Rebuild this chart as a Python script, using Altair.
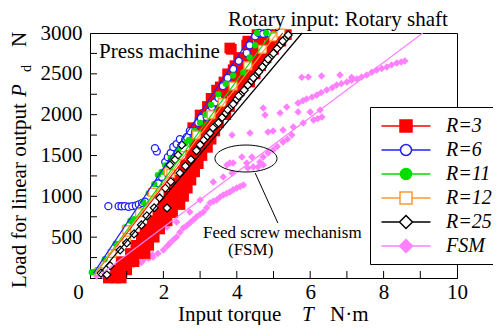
import altair as alt
import pandas as pd

FONT = "Liberation Serif"

# ---------------- data ----------------
series = ["R=3", "R=6", "R=11", "R=12", "R=25", "FSM"]
stroke_colors = ["#ff0000", "#2020ff", "#00dd00", "#ff9933", "#000000", "#ff80ff"]
fill_colors = ["#ff0000", "#ffffff", "#00dd00", "#ffffff", "#ffffff", "#ff80ff"]

# R=3 (red filled squares)
r3_T = [0.5, 0.7, 0.85,
        0.7, 0.85, 1.0,
        0.85, 1.05, 1.2,
        1.1, 1.3, 1.5,
        1.25, 1.45, 1.6,
        1.4, 1.6, 1.75,
        1.5, 1.7, 1.9,
        1.7, 1.9, 2.1,
        1.85, 2.05, 2.25,
        2.0, 2.2, 2.45,
        2.15, 2.35, 2.55,
        2.3, 2.5, 2.65,
        2.4, 2.6, 2.75,
        2.55, 2.7, 2.85,
        2.6, 2.8, 2.95,
        2.75, 2.9, 3.05,
        2.85, 3.0, 3.2,
        2.9, 3.1, 3.3,
        2.95, 3.15, 3.4,
        3.0, 3.25, 3.5,
        3.15, 3.45, 3.7,
        3.2, 3.5, 3.8,
        3.3, 3.6, 3.9,
        3.45, 3.75, 4.05,
        3.65, 3.9, 4.15, 4.35,
        3.75, 4.0, 4.25, 4.5,
        3.95, 4.2, 4.45, 4.65,
        4.05, 4.3, 4.55, 4.8,
        3.85, 4.5, 4.75, 5.0,
        4.3, 4.6, 4.9, 5.2,
        4.55, 4.85, 5.1, 5.35,
        2.8, 3.0, 3.55, 3.9, 3.81, 4.27]
r3_P = [0, 0, 0,
        100, 100, 100,
        200, 200, 200,
        300, 300, 300,
        400, 400, 400,
        500, 500, 500,
        600, 600, 600,
        700, 700, 700,
        800, 800, 800,
        900, 900, 900,
        1000, 1000, 1000,
        1100, 1100, 1100,
        1200, 1200, 1200,
        1300, 1300, 1300,
        1400, 1400, 1400,
        1500, 1500, 1500,
        1600, 1600, 1600,
        1700, 1700, 1700,
        1800, 1800, 1800,
        1900, 1900, 1900,
        2000, 2000, 2000,
        2100, 2100, 2100,
        2200, 2200, 2200,
        2300, 2300, 2300,
        2400, 2400, 2400, 2400,
        2500, 2500, 2500, 2500,
        2600, 2600, 2600, 2600,
        2700, 2700, 2700, 2700,
        2800, 2800, 2800, 2800,
        2900, 2900, 2900, 2900,
        2980, 2980, 2980, 2980,
        1840, 1996, 2340, 2550, 2816, 2853]

# R=6 (blue open circles)
r6_T = [0.5, 0.78, 0.86, 0.95, 1.05, 1.15, 1.25, 1.33, 1.42, 1.5,
        1.86, 1.96, 1.82, 1.77, 2.05, 2.12, 2.2, 2.27, 2.36, 2.45,
        2.59, 2.64, 2.72, 2.86, 2.95, 3.02, 3.18, 3.25, 3.32, 3.4,
        3.5, 3.62, 3.75, 3.9, 4.05, 4.27, 4.35, 4.5, 4.6, 4.72, 4.85]
r6_P = [880, 880, 878, 880, 872, 880, 885, 900, 920, 935,
        1160, 1237, 1550, 1590, 1420, 1480, 1530, 1604, 1640, 1700,
        1690, 1727, 1800, 1788, 1900, 1960, 1972, 2040, 2094, 2150,
        2204, 2350, 2450, 2560, 2660, 2755, 2850, 2960, 3000, 2990, 3000]

# R=11 (green filled circles)
r11_T = [0.05, 0.15, 0.4, 0.7, 0.95, 1.1, 1.2, 1.3, 1.45, 1.6, 1.75, 1.85,
         1.95, 2.05, 2.2, 2.4, 2.6, 2.7, 2.85, 3.0, 3.15, 3.3, 3.5, 3.7,
         3.9, 4.18, 4.35, 4.5, 4.55, 4.8, 5.0]
r11_P = [70, 80, 230, 420, 620, 700, 720, 820, 930, 1040, 1150, 1260,
         1300, 1380, 1470, 1570, 1650, 1690, 1800, 1900, 2000, 2120, 2250, 2380,
         2480, 2520, 2700, 2850, 3000, 3000, 2990]

# R=12 (orange open squares)
r12_T = [0.25, 0.6, 1.0, 1.0, 1.35, 1.7, 2.13, 2.2, 2.5, 2.9, 3.3, 3.6,
         3.9, 4.3, 4.7, 5.0, 5.2]
r12_P = [80, 300, 465, 590, 800, 1050, 1300, 1280, 1500, 1750, 2000, 2150,
         2350, 2600, 2800, 2950, 3000]

# R=25 (black open diamonds)
r25_T = [0.3, 0.46, 0.55, 0.82, 1.0, 1.2, 1.4, 1.55, 1.75, 1.9, 2.05, 2.1,
         2.2, 2.18, 2.32, 2.4, 2.45, 2.5, 2.6, 2.75, 2.9, 3.0, 3.1, 3.2,
         3.27, 3.4, 3.5, 3.6, 3.7, 3.8, 3.9, 4.0, 4.1, 4.2, 4.3, 4.4,
         4.5, 4.6, 4.7, 4.8, 4.9, 5.0, 5.1, 5.2, 5.3, 5.4,
         3.35, 3.75, 4.05, 4.45, 4.85, 5.25]
r25_P = [60, 40, 150, 343, 430, 540, 650, 760, 860, 980, 1100, 857,
         1180, 1384, 1450, 1506, 1286, 1630, 1370, 1450, 1560, 1630, 1690, 1740,
         1775, 1855, 1900, 1965, 2020, 2080, 2130, 2190, 2245, 2300, 2360, 2415,
         2470, 2525, 2585, 2640, 2700, 2750, 2810, 2860, 2920, 2975,
         1840, 2060, 2230, 2450, 2680, 2900]

# FSM (violet filled diamonds)
fsm_T = [0.18, 0.35, 0.55, 0.75, 0.9, 1.05, 1.18, 1.3, 1.45, 1.6, 1.72, 1.85,
         2.0, 2.1, 2.18, 2.28, 2.36, 2.45, 2.54, 2.63, 2.72, 2.81, 2.9, 3.0,
         3.09, 3.18, 3.27, 3.36, 3.45, 3.54, 3.63, 3.72, 3.81, 3.9, 4.0, 4.09, 4.18,
         0.6, 1.0, 1.4, 1.7, 2.1, 2.36, 2.72, 3.0, 3.36, 3.63, 3.87,
         3.73, 3.81, 3.9, 4.14, 4.27, 4.41, 4.45, 4.3, 4.58, 4.63, 4.72,
         4.72, 4.85, 4.99, 5.1, 5.26, 5.38, 5.5, 5.54, 5.81, 6.09, 6.2, 6.32,
         3.87, 4.36, 4.85, 4.72, 4.77, 5.18, 5.36, 5.67, 6.0, 6.27, 4.99, 5.26,
         5.67, 5.8, 5.9, 6.05, 6.18, 6.3, 6.45, 6.6, 6.72, 6.85, 7.0, 7.13,
         7.27, 7.4, 7.54, 7.68, 7.81, 7.95, 8.09, 8.22, 8.36, 8.48, 8.58,
         5.77, 5.95, 6.31, 6.81, 7.13]
fsm_P = [24, 30, 37, 55, 73, 110, 159, 190, 220, 240, 257, 300,
         343, 390, 428, 470, 502, 560, 612, 640, 673, 710, 747, 780,
         808, 860, 918, 940, 955, 990, 1016, 1035, 1053, 1080, 1102, 1120, 1139,
         70, 120, 190, 285, 624, 686, 808, 955, 1176, 1237, 1286,
         1384, 1408, 1408, 1482, 1408, 1482, 1360, 1347, 1360, 1420, 1384,
         1482, 1530, 1567, 1610, 1665, 1700, 1751, 1849, 1898, 1935, 1950, 1971,
         1751, 1776, 1788, 2082, 1996, 2020, 2094, 2033, 2033, 2057, 1800, 1812,
         2143, 2170, 2192, 2215, 2241, 2270, 2302, 2330, 2363, 2380, 2400, 2420,
         2437, 2460, 2486, 2520, 2547, 2565, 2584, 2610, 2633, 2645, 2657,
         2457, 2461, 2473, 2486, 2457]

# straight fitted lines
fit_T0 = [0.15, 0.1, 0.15, 0.15, 0.25, 0.3]
fit_P0 = [60, 60, 60, 60, 50, 50]
fit_T1 = [5.25, 4.45, 4.95, 5.1, 5.78, 9.07]
fit_P1 = [3000, 3000, 3000, 3000, 3000, 3000]

x_label_vals = [0, 2, 4, 6, 8, 10]
y_label_vals = [500, 1000, 1500, 2000, 2500, 3000]
x_tick_vals = [1, 2, 3, 4, 5, 6, 7, 8, 9]
y_tick_vals = [250, 500, 750, 1000, 1250, 1500, 1750, 2000, 2250, 2500, 2750]

ellipse_T = [4.25]
ellipse_P = [1463]
leader_T = [4.5]
leader_P = [1286]
leader_T1 = [5.12]
leader_P1 = [673]

# ---------------- chart ----------------
W, H = 367, 245
xs = alt.Scale(domain=[0, 10], nice=False, zero=False)
ys = alt.Scale(domain=[0, 3000], nice=False, zero=False)
xaxis = alt.Axis(values=x_label_vals, title=None, grid=False, ticks=False, format="d",
                 domainColor="black", labelFont=FONT, labelFontSize=21,
                 labelColor="black", labelPadding=3, labelFlush=False,
                 labelOffset={"condition": {"test": "datum.value === 0", "value": -12}, "value": 0})
yaxis = alt.Axis(values=y_label_vals, title=None, grid=False, ticks=False, format="d",
                 domainColor="black", labelFont=FONT, labelFontSize=21,
                 labelColor="black", labelPadding=8)


def X(f="T"):
    return alt.X(f + ":Q", scale=xs, axis=xaxis)


def Y(f="P"):
    return alt.Y(f + ":Q", scale=ys, axis=yaxis)


def pts(T, P, **mk):
    df = pd.DataFrame({"T": T, "P": P})
    return alt.Chart(df).mark_point(opacity=1, **mk).encode(x=X(), y=Y())


pink = pts(fsm_T, fsm_P, shape="diamond", size=55, filled=True, color="#ff80ff")
red = pts(r3_T, r3_P, shape="square", size=115, filled=True, color="#ff0000")
blue = pts(r6_T, r6_P, shape="circle", size=50, fill="white", stroke="#2020ff", strokeWidth=1.3)
green = pts(r11_T, r11_P, shape="circle", size=40, filled=True, color="#00dd00")
orange = pts(r12_T, r12_P, shape="square", size=60, fill="white", stroke="#ff9933", strokeWidth=1.3)
black = pts(r25_T, r25_P, shape="diamond", size=64, fill="white", stroke="black", strokeWidth=1.2)

fit_df = pd.DataFrame({"T": fit_T0, "P": fit_P0, "T1": fit_T1, "P1": fit_P1,
                       "col": stroke_colors})
fits = alt.Chart(fit_df).mark_rule(strokeWidth=1.2).encode(
    x=X(), y=Y(), x2="T1:Q", y2="P1:Q", color=alt.Color("col:N", scale=None))

xt = alt.Chart(pd.DataFrame({"T": x_tick_vals})).mark_rule(color="black").encode(
    x=X(), y=alt.value(H), y2=alt.value(H - 7))
yt = alt.Chart(pd.DataFrame({"P": y_tick_vals})).mark_rule(color="black").encode(
    y=Y(), x=alt.value(0), x2=alt.value(7))

ell_path = "M-1,0A1,0.435,0,1,1,1,0A1,0.435,0,1,1,-1,0Z"
ellipse = alt.Chart(pd.DataFrame({"T": ellipse_T, "P": ellipse_P})).mark_point(
    shape=ell_path, size=3844, filled=False, stroke="black", strokeWidth=1, opacity=1
).encode(x=X(), y=Y())
leader = alt.Chart(pd.DataFrame({"T": leader_T, "P": leader_P, "T1": leader_T1, "P1": leader_P1})
                   ).mark_rule(color="black", strokeWidth=1).encode(x=X(), y=Y(), x2="T1:Q", y2="P1:Q")

one = pd.DataFrame({"k": [0]})


def txt(s, x, y, size=21, style="normal", angle=0):
    return alt.Chart(one).mark_text(text=s, font=FONT, fontSize=size, fontStyle=style,
                                    angle=angle, align="left", baseline="alphabetic",
                                    color="black").encode(x=alt.value(x), y=alt.value(y))


texts = [
    txt("Rotary input: Rotary shaft", 138, -7),
    txt("Press machine", 9, 25),
    txt("Feed screw mechanism", 113, 205, size=17),
    txt("(FSM)", 138, 222, size=17),
    txt("Input torque", 88, 288),
    txt("T", 212, 288, style="italic"),
    txt("N\u00b7m", 240, 288),
    txt("Load for linear output", -64, 255, angle=270),
    txt("P", -64, 64, style="italic", angle=270),
    txt("d", -59, 39, size=14, angle=270),
    txt("N", -64, 14, angle=270),
]

# legend (line + marker symbols)
sq = "M-2.45,0H-0.6M0.6,0H2.45M-0.6,-0.6H0.6V0.6H-0.6Z"
ci = "M-2.45,0H-0.55M0.55,0H2.45M-0.55,0A0.55,0.55,0,1,0,0.55,0A0.55,0.55,0,1,0,-0.55,0Z"
di = "M-2.45,0H-0.65M0.65,0H2.45M-0.65,0L0,-0.65L0.65,0L0,0.65Z"
shapes = [sq, ci, ci, sq, di, di]

leg = alt.Legend(title=None, orient="none", legendX=280, legendY=74,
                 fillColor="white", strokeColor="black", padding=8,
                 symbolOffset=17, labelOffset=29, rowPadding=3,
                 labelFont=FONT, labelFontSize=20, labelFontStyle="italic",
                 labelColor="black", symbolSize=400, symbolStrokeWidth=1.5,
                 labelLimit=200)
leg_df = pd.DataFrame({"series": series, "T": [-5] * 6, "P": [-500] * 6})
legend_layer = alt.Chart(leg_df).mark_point(size=400, strokeWidth=1.5, opacity=1, clip=True).encode(
    x=X(), y=Y(),
    fill=alt.Fill("series:N", scale=alt.Scale(domain=series, range=fill_colors), legend=leg),
    stroke=alt.Stroke("series:N", scale=alt.Scale(domain=series, range=stroke_colors), legend=leg),
    shape=alt.Shape("series:N", scale=alt.Scale(domain=series, range=shapes), legend=leg),
)

chart = alt.layer(pink, red, blue, green, orange, black, fits, xt, yt, ellipse, leader,
                  *texts, legend_layer).properties(
    width=W, height=H,
    autosize=alt.AutoSizeParams(type="none"),
    padding={"left": 82, "top": 25, "right": 36, "bottom": 47},
    background="white",
).configure(font=FONT).configure_view(stroke="black", strokeWidth=1).configure_axis(
    domainColor="black", domainWidth=1, labelFont=FONT, labelFontSize=21, labelColor="black"
).configure_legend(labelFont=FONT, labelFontSize=20, labelFontStyle="italic", labelColor="black")

chart.save("out.html", embed_options={"renderer": "svg", "actions": False})
